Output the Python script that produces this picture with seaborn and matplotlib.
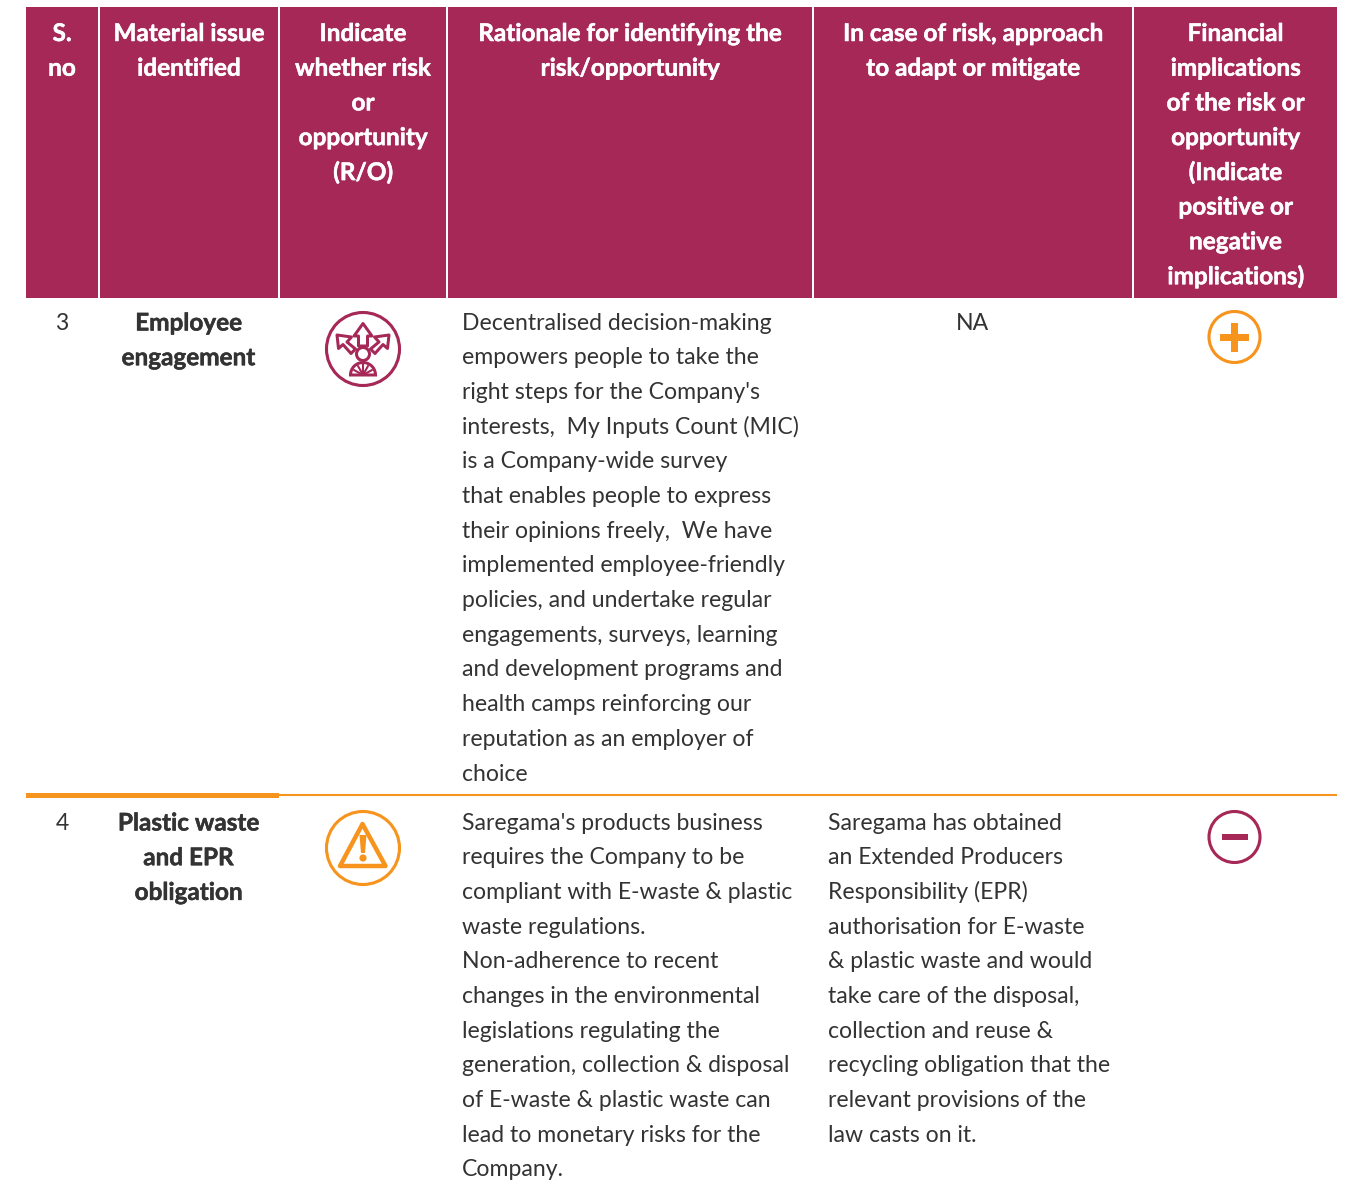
import matplotlib
matplotlib.use("Agg")
import matplotlib.pyplot as plt
import matplotlib.patheffects as pe
from matplotlib.patches import Circle, Polygon, Rectangle, Wedge
import seaborn as sns

sns.set_theme(style="white")
plt.rcParams['font.family'] = ['Lato', 'DejaVu Sans']

MAROON = "#A52857"
ORANGE = "#F7941D"
INK = "#333333"

# header cells
header_cells = [
    ["S.", "no"],
    ["Material issue", "identified"],
    ["Indicate", "whether risk", "or", "opportunity", "(R/O)"],
    ["Rationale for identifying the", "risk/opportunity"],
    ["In case of risk, approach", "to adapt or mitigate"],
    ["Financial", "implications", "of the risk or", "opportunity", "(Indicate", "positive or", "negative", "implications)"],
]
col_left = [26, 100, 280, 448, 814, 1134]
col_right = [98, 278, 446, 812, 1132, 1337]

# row 3
row3_no = "3"
row3_issue = ["Employee", "engagement"]
row3_rationale = [
    "Decentralised decision-making", "empowers people to take the",
    "right steps for the Company's", "interests,  My Inputs Count (MIC)",
    "is a Company-wide survey", "that enables people to express",
    "their opinions freely,  We have", "implemented employee-friendly",
    "policies, and undertake regular", "engagements, surveys, learning",
    "and development programs and", "health camps reinforcing our",
    "reputation as an employer of", "choice",
]
row3_approach = ["NA"]

# row 4
row4_no = "4"
row4_issue = ["Plastic waste", "and EPR", "obligation"]
row4_rationale = [
    "Saregama's products business", "requires the Company to be",
    "compliant with E-waste & plastic", "waste regulations.",
    "Non-adherence to recent", "changes in the environmental",
    "legislations regulating the", "generation, collection & disposal",
    "of E-waste & plastic waste can", "lead to monetary risks for the",
    "Company.",
]
row4_approach = [
    "Saregama has obtained", "an Extended Producers",
    "Responsibility (EPR)", "authorisation for E-waste",
    "& plastic waste and would", "take care of the disposal,",
    "collection and reuse &", "recycling obligation that the",
    "relevant provisions of the", "law casts on it.",
]

W, H = 1347, 1182
fig = plt.figure(figsize=(W / 100, H / 100), dpi=100, facecolor="white")
ax = fig.add_axes([0, 0, 1, 1])
ax.set_xlim(0, W)
ax.set_ylim(H, 0)
ax.axis("off")

PITCH = 34.7
PX = 0.72
FS = 16.6
FS_BOLD = 17.5


def block(lines, x, y0, ha="left", color=INK, weight="normal", size=FS):
    for i, s in enumerate(lines):
        t = ax.text(x, y0 + i * PITCH, s, ha=ha, va="center_baseline", color=color,
                    fontweight=weight, fontsize=size)
        if weight == "bold":
            t.set_path_effects([pe.withStroke(linewidth=0.35, foreground=color)])


# header
for l, r, cell in zip(col_left, col_right, header_cells):
    ax.add_patch(Rectangle((l, 7), r - l, 291, fc=MAROON, ec="none"))
    block(cell, (l + r) / 2, 31.5, ha="center", color="white", weight="bold", size=FS_BOLD)

# row rules
ax.plot([26, 1337], [795, 795], color=ORANGE, lw=1.5, solid_capstyle="butt")
ax.add_patch(Rectangle((26, 792.5), 253, 5, fc=ORANGE, ec="none"))

# body text
block([row3_no], 62, 321, ha="center")
block(row3_issue, 188.5, 321, ha="center", weight="bold", size=FS_BOLD)
block(row3_rationale, 462, 321)
block(row3_approach, 973, 321, ha="center")

block([row4_no], 62, 821, ha="center")
block(row4_issue, 188.5, 821, ha="center", weight="bold", size=FS_BOLD)
block(row4_rationale, 462, 821)
block(row4_approach, 828, 821)


# icons
def ring(cx, cy, r, color, lw=3.1):
    ax.add_patch(Circle((cx, cy), r, fc="none", ec=color, lw=lw * PX))


def outline(pts, color, lw=3.0):
    ax.add_patch(Polygon(pts, closed=True, fc="none", ec=color, lw=lw * PX, joinstyle="round"))


# choice icon
cx, cy = 363, 349
ring(cx, cy, 36.5, MAROON)
up = [(363, 323.5), (354, 336), (358.5, 336), (358.5, 346), (367.5, 346), (367.5, 336), (372, 336)]
left = [(337, 335), (351.5, 337), (347, 342), (355.5, 349), (351, 353.5), (343, 344.5), (338.5, 348.5)]
right = [(2 * cx - x, y) for x, y in left]
for arrow in (up, left, right):
    outline(arrow, MAROON)
ax.add_patch(Circle((363, 354), 6.5, fc="none", ec=MAROON, lw=3.0 * PX))
ax.add_patch(Wedge((363, 375), 12.5, 180, 360, fc="none", ec=MAROON, lw=3.0 * PX))
ax.plot([363, 363], [362, 375], color=MAROON, lw=1.5)
for dx, dy in [(-9, -5), (-5, -9), (5, -9), (9, -5)]:
    ax.plot([363, 363 + dx], [375, 375 + dy], color=MAROON, lw=1.5)

# warning icon
ring(363, 848, 36.5, ORANGE)
ax.add_patch(Polygon([(362.5, 824), (340, 866), (385.5, 866)], closed=True, fc="none",
                     ec=ORANGE, lw=3.2, joinstyle="round"))
ax.add_patch(Polygon([(359.5, 835), (366.5, 835), (365, 853), (361, 853)], closed=True,
                     fc=ORANGE, ec="none"))
ax.add_patch(Circle((363, 858), 3.6, fc=ORANGE, ec="none"))

# plus icon
ring(1234.5, 337, 25.5, ORANGE)
ax.add_patch(Rectangle((1220, 333.5), 29, 7, fc=ORANGE, ec="none"))
ax.add_patch(Rectangle((1231, 323), 7, 29, fc=ORANGE, ec="none"))

# minus icon
ring(1234.5, 837, 25.5, MAROON)
ax.add_patch(Rectangle((1221.5, 834), 26, 6, fc=MAROON, ec="none"))

fig.savefig("out.png", dpi=100)
